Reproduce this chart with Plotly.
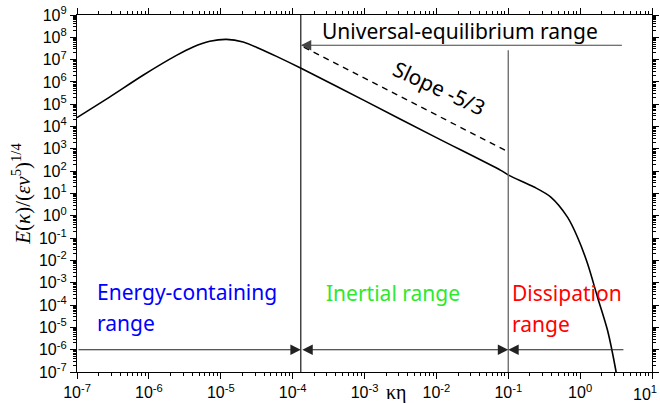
import numpy as np
import plotly.graph_objects as go

# ---- data ----
kappa_eta = [1.0e-7, 2.84e-7, 8.3e-7, 2.42e-6, 4.13e-6, 7.03e-6, 1.2e-5, 2.05e-5,
             3.49e-5, 5.97e-5, 1.33e-4, 1.0e-3, 1.0e-2, 7.87e-2, 0.1026, 0.2286,
             0.391, 0.667, 0.92, 1.27, 1.75, 2.41, 3.14, 3.24]
spectrum = [2.5e4, 2.1e5, 2.0e6, 1.55e7, 3.7e7, 6.6e7, 8.1e7, 6.2e7,
            3.1e7, 1.4e7, 4.0e6, 1.45e5, 3.2e3, 1.09e2, 65, 19.5,
            6.9, 0.87, 0.11, 7.1e-3, 2.2e-4, 7.2e-6, 1.17e-7, 6.3e-8]

slope_x = [1.43e-4, 9.2e-2]
slope_y = [3.67e7, 8.5e2]

boundary_ei = 1.3e-4      # energy-containing / inertial
boundary_id = 0.1         # inertial / dissipation
id_line_top = 2.6e7
bracket_level = 1e-6
bracket_left = 1e-7
bracket_right = 4.2
universal_level = 4.4e7
universal_right = 4.0

x_ticks = [1e-7, 1e-6, 1e-5, 1e-4, 1e-3, 1e-2, 1e-1, 1e0, 1e1]
x_ticktext = ["10<sup>-7</sup>", "10<sup>-6</sup>", "10<sup>-5</sup>", "10<sup>-4</sup>",
              "10<sup>-3</sup>", "10<sup>-2</sup>", "10<sup>-1</sup>", "10<sup>0</sup>",
              "10<sup>1</sup>"]
y_exps = list(range(-7, 10))
y_ticks = [10.0 ** e for e in y_exps]
y_ticktext = ["10<sup>%d</sup>" % e for e in y_exps]

L = np.log10

fig = go.Figure()

# main spectrum
fig.add_trace(go.Scatter(x=kappa_eta, y=spectrum, mode="lines",
                         line=dict(color="black", width=1.6, shape="spline", smoothing=0.8),
                         hoverinfo="skip"))
# -5/3 slope dashed
fig.add_trace(go.Scatter(x=slope_x, y=slope_y, mode="lines",
                         line=dict(color="black", width=1.4, dash="6px,5px"),
                         hoverinfo="skip"))
# vertical boundaries
fig.add_trace(go.Scatter(x=[boundary_ei, boundary_ei], y=[1e-7, 1e9], mode="lines",
                         line=dict(color="black", width=1.1), hoverinfo="skip"))
fig.add_trace(go.Scatter(x=[boundary_id, boundary_id], y=[1e-7, id_line_top], mode="lines",
                         line=dict(color="#666666", width=1.3), hoverinfo="skip"))

anns = []
def arrow(tip, tail, yval, color, both=False):
    d = dict(x=L(tip), y=L(yval), ax=L(tail), ay=L(yval), xref="x", yref="y",
             axref="x", ayref="y", text="", showarrow=True, arrowhead=2,
             arrowsize=1.9, arrowwidth=1.1, arrowcolor=color, standoff=0, startstandoff=0)
    if both:
        d["arrowside"] = "end+start"
        d["startarrowhead"] = 2
        d["startarrowsize"] = 1.9
    anns.append(d)

arrow(boundary_ei, bracket_left, bracket_level, "#222222")
arrow(boundary_id, boundary_ei, bracket_level, "#222222", both=True)
arrow(boundary_id, bracket_right, bracket_level, "#222222")
arrow(boundary_ei, universal_right, universal_level, "#444444")

txt_font = "Noto Sans"
def label(x, y, text, color, angle=0, anchor="left"):
    anns.append(dict(x=x, y=y, xref="x", yref="y", xanchor=anchor, yanchor="middle",
                     text=text, textangle=angle, showarrow=False,
                     font=dict(family=txt_font, size=21, color=color)))

label(-1.67, 8.27, "Universal-equilibrium range", "black", anchor="center")
label(-1.96, 5.72, "Slope -5/3", "black", angle=25, anchor="center")
label(-6.75, -3.4, "Energy-containing", "#0000ff")
label(-6.75, -4.8, "range", "#0000ff")
label(-3.57, -3.45, "Inertial range", "#2ee82e")
label(-0.97, -3.45, "Dissipation", "#ff0000")
label(-0.97, -4.85, "range", "#ff0000")

anns += [
    dict(x=0.555, y=-0.058, xref="paper", yref="paper", text="κη", showarrow=False,
         xanchor="center", yanchor="middle",
         font=dict(family="Liberation Serif", size=20, color="black")),
    dict(x=-0.097, y=0.5, xref="paper", yref="paper", textangle=-90,
         xanchor="center", yanchor="middle",
         text="<i>E</i>(<i>κ</i>)/(<i>εν</i><sup>5</sup>)<sup>1/4</sup>",
         showarrow=False, font=dict(family="Liberation Serif", size=21, color="black")),
    # last x tick label (at the page edge, drawn explicitly so it stays inside)
    dict(x=1, y=0, xref="paper", yref="paper", xshift=7, yshift=-9, yanchor="top",
         xanchor="right", text=x_ticktext[-1], showarrow=False,
         font=dict(family="Liberation Sans", size=16, color="black")),
]

axis_common = dict(type="log", showgrid=False, zeroline=False, showline=True,
                   linecolor="black", linewidth=1.2, mirror="ticks", automargin=False,
                   ticks="outside", ticklen=6, tickwidth=1, tickcolor="black",
                   tickfont=dict(family="Liberation Sans", size=16, color="black"),
                   minor=dict(ticks="outside", ticklen=3, tickwidth=1, tickcolor="black",
                              dtick="D1", showgrid=False))

fig.update_xaxes(range=[-7, 1], tickvals=x_ticks, ticktext=x_ticktext, **axis_common)
fig.update_yaxes(range=[-7, 9], tickvals=y_ticks, ticktext=y_ticktext, **axis_common)

fig.update_layout(width=660, height=403, margin=dict(l=77, r=8, t=15, b=31),
                  paper_bgcolor="white", plot_bgcolor="white", showlegend=False,
                  annotations=anns)

fig.write_html("out.html")
